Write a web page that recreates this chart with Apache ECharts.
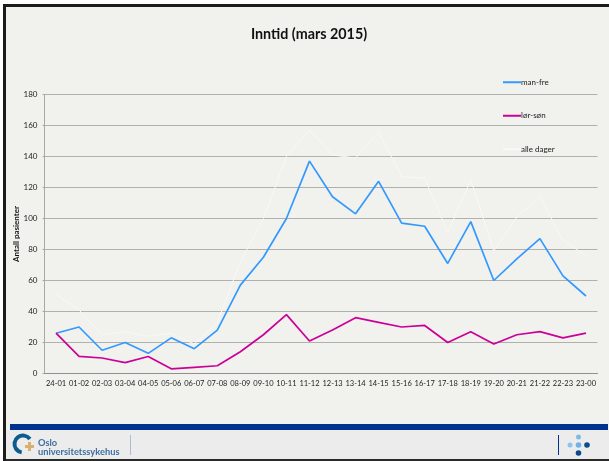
<!DOCTYPE html>
<html>
<head>
<meta charset="utf-8">
<title>Inntid (mars 2015)</title>
<style>
html, body { margin: 0; padding: 0; background: #ffffff; }
#main_chart { width: 609px; height: 461px; }
</style>
<script src="https://cdn.jsdelivr.net/npm/echarts@6/dist/echarts.min.js"></script>
</head>
<body>
<div id="main_chart"></div>
<script>
var titleText = 'Inntid (mars 2015)';
var yAxisName = 'Antall pasienter';
var hours = ['24-01', '01-02', '02-03', '03-04', '04-05', '05-06', '06-07', '07-08', '08-09', '09-10', '10-11', '11-12',
    '12-13', '13-14', '14-15', '15-16', '16-17', '17-18', '18-19', '19-20', '20-21', '21-22', '22-23', '23-00'];
var manFre = [26, 30, 15, 20, 13, 23, 16, 28, 57, 75, 100, 137, 114, 103, 124, 97, 95, 71, 98, 60, 74, 87, 63, 50];
var lorSon = [26, 11, 10, 7, 11, 3, 4, 5, 14, 25, 38, 21, 28, 36, 33, 30, 31, 20, 27, 19, 25, 27, 23, 26];
var alleDager = [51, 41, 25, 27, 24, 26, 19, 33, 72, 100, 140, 157, 141, 139, 156, 127, 126, 91, 125, 79, 101, 114, 86, 76];

var font = 'Lato';
var chart = echarts.init(document.getElementById('main_chart'), null, {renderer: 'canvas'});

function lineSeries(name, data, color, width) {
    return {
        name: name,
        type: 'line',
        data: data,
        symbol: 'none',
        animation: false,
        lineStyle: {color: color, width: width},
        itemStyle: {color: color}
    };
}

// ramme, bunnfelt og logo rundt selve grafen
var decorations = [
    {type: 'rect', z: -10, shape: {x: 5, y: 6, width: 604, height: 453}, style: {fill: '#f1f1ee'}},
    {type: 'rect', z: -9, shape: {x: 3, y: 4, width: 606, height: 3}, style: {fill: '#1c1c1c'}},
    {type: 'rect', z: -9, shape: {x: 3, y: 4, width: 3, height: 457}, style: {fill: '#1c1c1c'}},
    {type: 'rect', z: -8, shape: {x: 6, y: 430, width: 603, height: 29}, style: {fill: '#ececec'}},
    {type: 'rect', z: -8, shape: {x: 6, y: 459, width: 603, height: 2}, style: {fill: '#2a2a2a'}},
    {type: 'rect', z: -7, shape: {x: 10, y: 424, width: 598, height: 6}, style: {fill: '#00338d'}},
    {type: 'arc', shape: {cx: 23, cy: 444, r: 8.5, startAngle: -0.2 * Math.PI, endAngle: -1.45 * Math.PI, clockwise: false},
        style: {stroke: '#0d5c8f', lineWidth: 4, fill: 'none'}},
    {type: 'rect', shape: {x: 25, y: 445, width: 9, height: 3}, style: {fill: '#d8b070'}},
    {type: 'rect', shape: {x: 28, y: 442, width: 3, height: 9}, style: {fill: '#d8b070'}},
    {type: 'text', style: {x: 38, y: 443, text: 'Oslo', font: 'bold 9.3px ' + font, fill: '#3d6f9f', textVerticalAlign: 'middle'}},
    {type: 'text', style: {x: 38, y: 451.5, text: 'universitetssykehus', font: 'bold 9.3px ' + font, fill: '#3d6f9f', textVerticalAlign: 'middle'}},
    {type: 'rect', shape: {x: 130, y: 435, width: 1, height: 20}, style: {fill: '#a9bcd0'}},
    {type: 'rect', shape: {x: 558, y: 435, width: 1, height: 20}, style: {fill: '#00338d'}},
    {type: 'circle', shape: {cx: 578.5, cy: 437, r: 2.5}, style: {fill: '#7fbbe8'}},
    {type: 'circle', shape: {cx: 570, cy: 445, r: 2.5}, style: {fill: '#8cc4ee'}},
    {type: 'circle', shape: {cx: 578.5, cy: 445, r: 2.8}, style: {fill: '#6fb2e6'}},
    {type: 'circle', shape: {cx: 587, cy: 445, r: 2.8}, style: {fill: '#0b4a8c'}},
    {type: 'circle', shape: {cx: 578.5, cy: 453, r: 2.8}, style: {fill: '#0b4a8c'}}
];

var option = {
    backgroundColor: '#ffffff',
    textStyle: {fontFamily: font},
    title: {
        text: titleText,
        left: 304,
        top: 22,
        textAlign: 'center',
        textStyle: {fontFamily: font, fontSize: 14.3, fontWeight: 'bold', color: '#111111'}
    },
    legend: {
        orient: 'vertical',
        left: 498,
        top: 72,
        itemWidth: 18,
        itemHeight: 2,
        itemGap: 23,
        icon: 'rect',
        data: ['man-fre', 'lør-søn', 'alle dager'],
        textStyle: {fontFamily: font, fontSize: 8, color: '#222222', padding: [0, 0, 0, -5], height: 10.5, lineHeight: 10.5}
    },
    grid: {left: 44.5, right: 11.5, top: 94.5, bottom: 87.5, outerBoundsMode: 'none'},
    xAxis: {
        type: 'category',
        data: hours,
        axisTick: {show: false},
        axisLine: {lineStyle: {color: '#8f8f8c', width: 1}},
        axisLabel: {fontFamily: font, fontSize: 7.5, color: '#222222', margin: 6, interval: 0}
    },
    yAxis: {
        type: 'value',
        min: 0,
        max: 180,
        interval: 20,
        name: yAxisName,
        nameLocation: 'middle',
        nameGap: 24,
        nameMoveOverlap: false,
        nameTextStyle: {fontFamily: font, fontSize: 8, fontWeight: 'bold', color: '#111111'},
        axisLine: {show: true, lineStyle: {color: '#a8a8a4', width: 1}},
        axisTick: {show: true, length: 2, lineStyle: {color: '#a8a8a4'}},
        axisLabel: {fontFamily: font, fontSize: 8, color: '#222222', margin: 7},
        splitLine: {lineStyle: {color: '#b0b0ac', width: 1}}
    },
    series: [
        lineSeries('alle dager', alleDager, '#f8f8f6', 1),
        lineSeries('man-fre', manFre, '#3399ff', 1.7),
        lineSeries('lør-søn', lorSon, '#cc0099', 1.7)
    ],
    graphic: {elements: decorations}
};
chart.setOption(option);
</script>
</body>
</html>
